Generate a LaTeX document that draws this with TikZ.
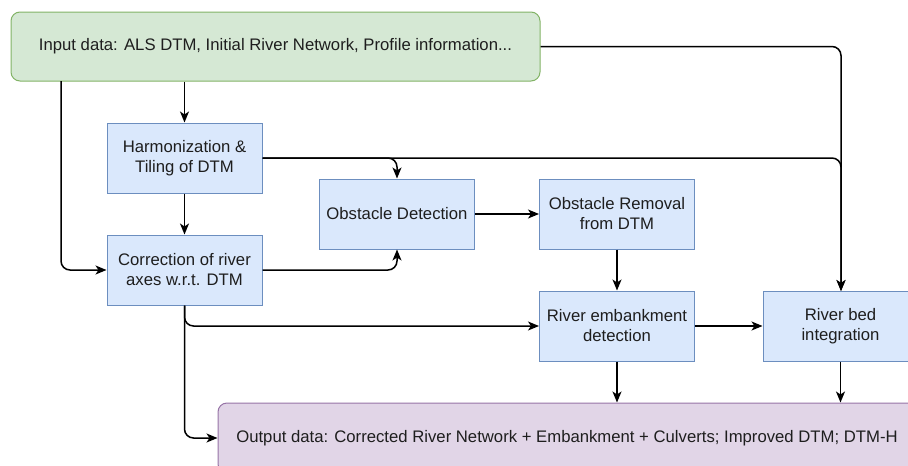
\documentclass[tikz,border=0pt]{standalone}
\usepackage{fontspec}
\setmainfont{Liberation Sans}
\usetikzlibrary{arrows.meta}
\definecolor{ingreen}{HTML}{D5E8D4}
\definecolor{ingreenline}{HTML}{82B366}
\definecolor{stepblue}{HTML}{DAE8FC}
\definecolor{stepblueline}{HTML}{6C8EBF}
\definecolor{outpurple}{HTML}{E1D5E7}
\definecolor{outpurpleline}{HTML}{9673A6}
\definecolor{txt}{HTML}{1E1E1E}
\tikzset{
  x=1pt, y=-1pt,
  every node/.style={font=\fontsize{16.7}{20}\selectfont, text=txt, align=center, inner sep=0pt},
  stepbox/.style={draw=stepblueline, fill=stepblue, line width=1pt, minimum width=155pt, minimum height=70pt},
  databox/.style={line width=1pt, rounded corners=9pt, minimum height=69pt},
  flow/.style={draw=black, line width=1.5pt, rounded corners=9pt,
    -{Stealth[length=11pt,width=9pt,inset=3pt]}},
}
\begin{document}
\begin{tikzpicture}
\useasboundingbox (0,0) rectangle (908,466);
\clip (0,0) rectangle (908,466);
% data boxes
\node[databox, draw=ingreenline, fill=ingreen, minimum width=529pt] (in) at (275.5,46.5)
  {Input data: ALS DTM, Initial River Network, Profile information...};
\node[databox, draw=outpurpleline, fill=outpurple, minimum width=698pt, minimum height=70pt] (out) at (567,438)
  {Output data: Corrected River Network + Embankment + Culverts; Improved DTM; DTM-H};
% processing steps
\node[stepbox] (harm) at (184.5,158) {Harmonization \&\\Tiling of DTM};
\node[stepbox] (corr) at (184.5,270) {Correction of river\\axes w.r.t. DTM};
\node[stepbox] (obs) at (397,214) {Obstacle Detection};
\node[stepbox] (rem) at (617,214) {Obstacle Removal\\from DTM};
\node[stepbox] (emb) at (617,326) {River embankment\\detection};
\node[stepbox] (bed) at (840.5,326) {River bed\\integration};
\coordinate (inleft) at (61,81);
\coordinate (bedtop) at (841,291);
% connectors
\draw[flow] (in.south -| harm.north) -- (harm.north);
\draw[flow] (inleft) |- (corr.west);
\draw[flow] (in.east) -| (bedtop);
\draw[flow] (harm.south) -- (corr.north);
\draw[flow] (harm.east) -| (obs.north);
\draw[flow] (harm.east) -| (bedtop);
\draw[flow] (corr.east) -| (obs.south);
\draw[flow] (obs.east) -- (rem.west);
\draw[flow] (rem.south) -- (emb.north);
\draw[flow] (corr.south) |- (emb.west);
\draw[flow] (corr.south) |- (out.west);
\draw[flow] (emb.east) -- (bed.west);
\draw[flow] (emb.south) -- (emb.south |- out.north);
\draw[flow] (bed.south) -- (bed.south |- out.north);
\end{tikzpicture}
\end{document}
